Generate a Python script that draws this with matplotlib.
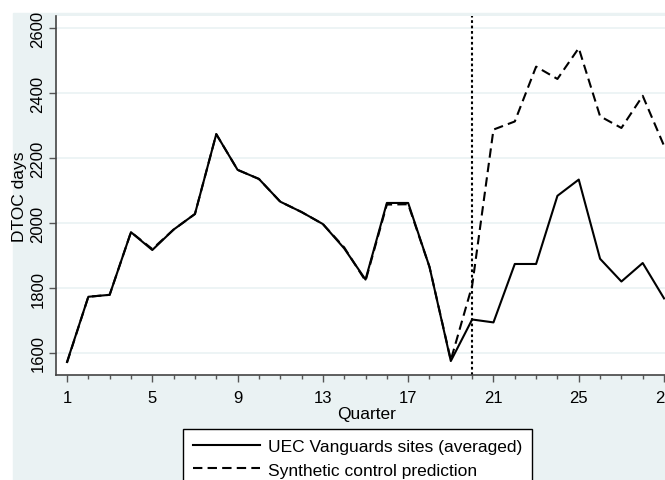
import matplotlib
matplotlib.use("Agg")
import matplotlib.pyplot as plt
from matplotlib.patches import Rectangle

plt.rcParams['font.family'] = ['Liberation Sans', 'DejaVu Sans']

quarter = list(range(1, 30))
uec = [1572, 1773, 1779, 1972, 1917, 1980, 2028, 2274, 2164, 2136,
       2066, 2034, 1997, 1922, 1826, 2062, 2062, 1865, 1575, 1703,
       1694, 1874, 1874, 2084, 2134, 1890, 1820, 1877, 1768]
synth = [1570, 1773, 1779, 1972, 1920, 1980, 2028, 2274, 2164, 2136,
         2066, 2034, 1997, 1925, 1822, 2057, 2058, 1865, 1578, 1807,
         2288, 2313, 2482, 2444, 2539, 2329, 2293, 2392, 2238]
treat_q = 20
labels = ['UEC Vanguards sites (averaged)', 'Synthetic control prediction']

bg = '#eaf2f3'
fig = plt.figure(figsize=(6.65, 4.81), dpi=100)
fig.patches.append(Rectangle((13 / 665, 0), 1, (481 - 14) / 481,
                             transform=fig.transFigure, color=bg, zorder=-10))

ax = fig.add_axes([56 / 665, (481 - 376) / 481, 0.9384, 0.7464])
ax.set_facecolor('white')

ax.plot(quarter, uec, color='black', lw=1.5, label=labels[0])
ax.plot(quarter, synth, color='black', lw=1.5, dashes=(4.5, 2.5), label=labels[1])
ax.axvline(treat_q, color='black', lw=1.5, dashes=(1.3, 1.3))

ax.set_xlim(0.484, 29.75)
ax.set_ylim(1532, 2638)
ax.set_xticks(range(1, 30, 4))
ax.set_xticks(range(1, 30), minor=True)
ax.set_yticks(range(1600, 2601, 200))
ax.grid(axis='y', color=bg, lw=1.2)
ax.set_axisbelow(True)

for s in ['top', 'right']:
    ax.spines[s].set_visible(False)
for s in ['left', 'bottom']:
    ax.spines[s].set_color('#444444')
    ax.spines[s].set_linewidth(1.2)

ax.tick_params(axis='both', which='major', length=5, width=1, color='#555555',
               labelsize=12)
ax.tick_params(axis='x', which='major', pad=6)
ax.tick_params(axis='y', which='major', pad=2.5)
ax.tick_params(axis='x', which='minor', length=3, width=1, color='#555555')
for t in ax.get_yticklabels():
    t.set_rotation(90)
    t.set_va('center')

ax.set_xlabel('Quarter', fontsize=12.5)
ax.set_ylabel('DTOC days', fontsize=12.5)
ax.xaxis.set_label_coords(0.498, -0.087)
ax.yaxis.set_label_coords(-0.046, 0.5)

leg = fig.legend(loc='upper left', bbox_to_anchor=(183 / 665, (481 - 430) / 481),
                 frameon=True, fancybox=False, edgecolor='black', facecolor='white',
                 framealpha=1, fontsize=12.5, handlelength=3.9, handletextpad=0.45,
                 borderaxespad=0, borderpad=0.55, labelspacing=0.5)
leg.get_frame().set_linewidth(1.0)

fig.savefig('out.png', dpi=100)
